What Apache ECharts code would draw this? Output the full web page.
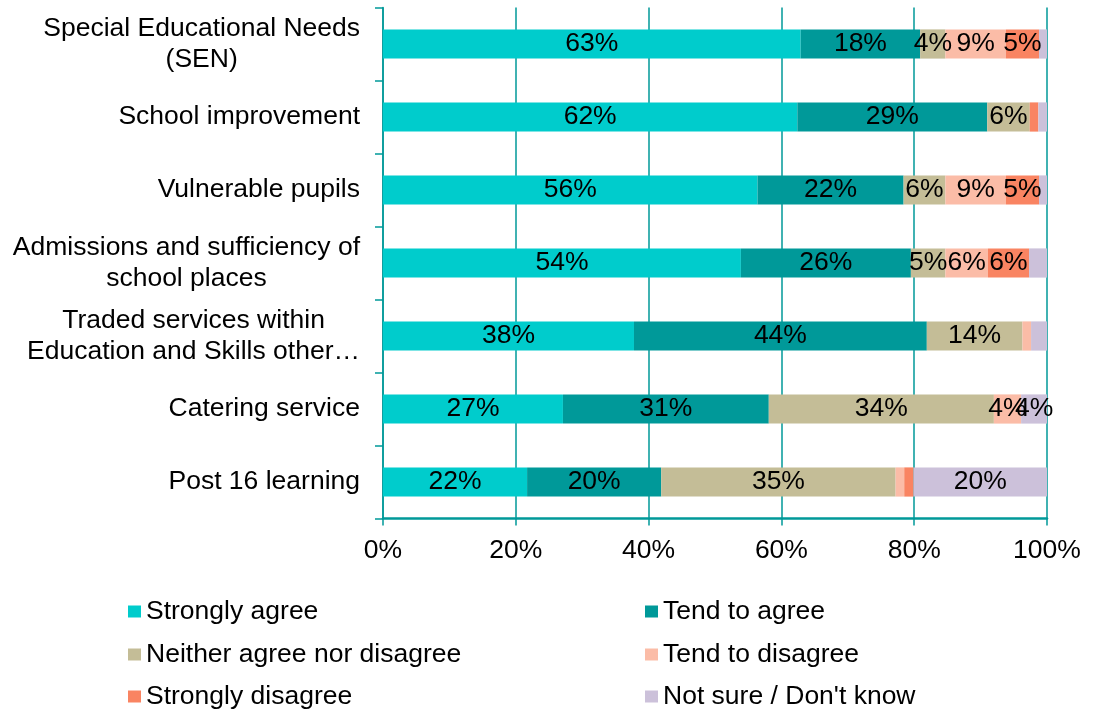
<!DOCTYPE html>
<html>
<head>
<meta charset="utf-8">
<script src="https://cdn.jsdelivr.net/npm/echarts@6/dist/echarts.min.js"></script>
<style>html,body{margin:0;padding:0;background:#fff;}#chart{width:1093px;height:713px;}</style>
</head>
<body>
<div id="chart"></div>
<script>
var categories = ['Special Educational Needs\n(SEN)', 'School improvement', 'Vulnerable pupils', 'Admissions and sufficiency of\nschool places', 'Traded services within\nEducation and Skills other\u2026', 'Catering service', 'Post 16 learning'];
var seriesNames = ['Strongly agree', 'Tend to agree', 'Neither agree nor disagree', 'Tend to disagree', 'Strongly disagree', "Not sure / Don't know"];
var stronglyAgree = [62.9, 62.4, 56.4, 53.9, 37.8, 27.1, 21.7];
var tendAgree = [18.0, 28.6, 22.0, 25.6, 44.1, 31.0, 20.2];
var neither = [3.8, 6.4, 6.3, 5.2, 14.4, 33.9, 35.3];
var tendDisagree = [9.1, 0, 9.1, 6.4, 1.3, 4.1, 1.3];
var stronglyDisagree = [5.0, 1.3, 5.0, 6.2, 0, 0, 1.4];
var notSure = [1.2, 1.3, 1.2, 2.7, 2.4, 3.9, 20.1];
var xTicks = [0, 20, 40, 60, 80, 100];

var FONT = '"Liberation Sans", Arial, sans-serif';
var FS = 26.5;
var colors = ['#00CCCC', '#009999', '#C4BD97', '#FBBCA7', '#F98462', '#CCC1DA'];
var teal = '#009999';
var values = [stronglyAgree, tendAgree, neither, tendDisagree, stronglyDisagree, notSure];

var chart = echarts.init(document.getElementById('chart'));
var series = values.map(function (arr, i) {
  return {
    name: seriesNames[i],
    type: 'bar',
    stack: 'total',
    barWidth: '40%',
    data: arr,
    itemStyle: { color: colors[i] },
    label: {
      show: true,
      position: 'inside',
      color: '#000',
      fontSize: FS,
      fontFamily: FONT,
      formatter: function (p) { return p.value >= 3 ? Math.round(p.value) + '%' : ''; }
    }
  };
});

// legend layout: two columns, three rows
var legendOrder = [0, 1, 2, 3, 4, 5];
var legendLefts = [128, 645];
var legendTops = [596, 639, 681];
var legends = legendOrder.map(function (si, k) {
  return {
    data: [seriesNames[si]],
    left: legendLefts[k % 2],
    top: legendTops[Math.floor(k / 2)],
    itemWidth: 13, itemHeight: 12,
    icon: 'rect',
    padding: 0,
    textStyle: { color: '#000', fontSize: FS, fontFamily: FONT, lineHeight: 31 }
  };
});

chart.setOption({
  animation: false,
  color: colors,
  textStyle: { fontFamily: FONT },
  grid: { left: 383, right: 46, top: 7.5, bottom: 194.5, containLabel: false },
  xAxis: {
    type: 'value', min: xTicks[0], max: xTicks[xTicks.length - 1], interval: 20,
    axisLine: { show: true, lineStyle: { color: teal, width: 2.5 } },
    axisTick: { show: true, length: 7, lineStyle: { color: teal, width: 1.5 } },
    splitLine: { show: true, lineStyle: { color: teal, width: 1.5 } },
    axisLabel: { formatter: '{value}%', color: '#000', fontSize: FS, fontFamily: FONT, margin: 19 }
  },
  yAxis: {
    type: 'category', inverse: true, data: categories,
    axisLine: { show: true, lineStyle: { color: teal, width: 1.5 } },
    axisTick: { show: true, length: 8, lineStyle: { color: teal, width: 1.5 } },
    axisLabel: {
      margin: 23, color: '#000', fontSize: FS, fontFamily: FONT, lineHeight: 31,
      formatter: function (v) { return v.split('\n').map(function (s) { return '{c|' + s + '}'; }).join('\n'); },
      rich: { c: { align: 'center', fontSize: FS, lineHeight: 31, color: '#000', fontFamily: FONT } }
    }
  },
  legend: legends,
  series: series
});
</script>
</body>
</html>
